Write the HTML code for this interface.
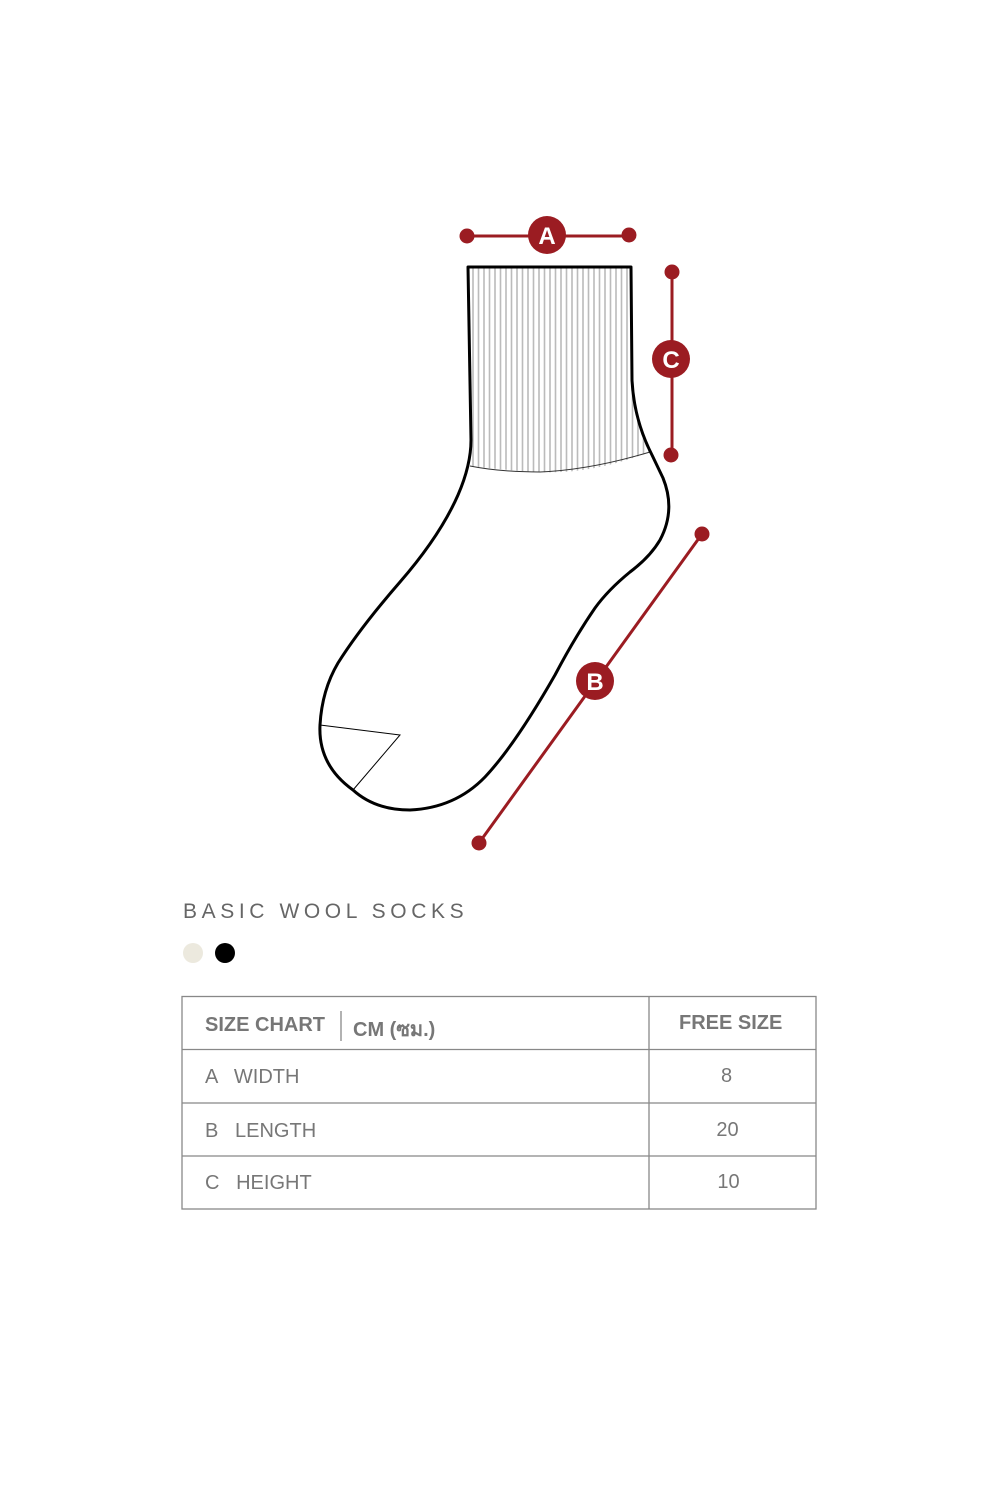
<!DOCTYPE html>
<html><head><meta charset="utf-8"><style>
html,body{margin:0;padding:0;background:#fff;width:1000px;height:1500px;overflow:hidden;position:relative;font-family:"Liberation Sans","Noto Sans CJK SC",sans-serif}
svg{position:absolute;left:0;top:0}
.t{position:absolute;color:#777;font-size:20px}
</style></head><body>
<svg width="1000" height="1500" viewBox="0 0 1000 1500">
<defs><clipPath id="cuff"><path d="M468 267 L631 267 L632 380 Q636 420 650 452 Q590 475 540 472 Q500 470 470 466 Z"/></clipPath></defs>
<g clip-path="url(#cuff)" stroke="#bbb" stroke-width="1.6">
<path d="M473 267V475M478.5 267V475M484 267V475M489.5 267V475M495 267V475M500.5 267V475M506 267V475M511.5 267V475M517 267V475M522.5 267V475M528 267V475M533.5 267V475M539 267V475M544.5 267V475M550 267V475M555.5 267V475M561 267V475M566.5 267V475M572 267V475M577.5 267V475M583 267V475M588.5 267V475M594 267V475M599.5 267V475M605 267V475M610.5 267V475M616 267V475M621.5 267V475M627 267V475M632.5 267V475M638 267V475M643.5 267V475M649 267V475"/>
</g>
<path d="M470 466 Q500 472 540 472 Q590 470 650 452" fill="none" stroke="#333" stroke-width="1"/>
<path d="M468 267 L631 267 L632 380 Q634 420 652 455 L663 478 Q676 510 660 540 Q650 557 630 572 Q608 590 595 608 Q575 637 555 675 Q515 745 485 777 Q455 808 410 810 Q375 810 353 790 Q318 765 320 725 Q322 690 338 663 Q360 628 400 582 Q440 536 458 495 Q471 465 471 440 Z" fill="none" stroke="#000" stroke-width="3" stroke-linejoin="round"/>
<path d="M320 725 L400 735 L353 790" fill="none" stroke="#000" stroke-width="1"/>
<g fill="#9b1c22" stroke="#9b1c22">
<line x1="467" y1="236" x2="629" y2="236" stroke-width="3"/>
<circle cx="467" cy="236" r="7.5" stroke="none"/><circle cx="629" cy="235" r="7.5" stroke="none"/>
<circle cx="547" cy="235" r="19" stroke="none"/>
<line x1="672" y1="272" x2="672" y2="455" stroke-width="3"/>
<circle cx="672" cy="272" r="7.5" stroke="none"/><circle cx="671" cy="455" r="7.5" stroke="none"/>
<circle cx="671" cy="359" r="19" stroke="none"/>
<line x1="702" y1="534" x2="479" y2="843" stroke-width="3"/>
<circle cx="702" cy="534" r="7.5" stroke="none"/><circle cx="479" cy="843" r="7.5" stroke="none"/>
<circle cx="595" cy="681" r="19" stroke="none"/>
</g>
<g fill="#fff" font-family="Liberation Sans, sans-serif" font-weight="bold" font-size="24" text-anchor="middle">
<text x="547" y="244">A</text><text x="671" y="368">C</text><text x="595" y="690">B</text>
</g>
<circle cx="193" cy="953" r="10" fill="#ece9de"/>
<circle cx="225" cy="953" r="10" fill="#000"/>
<g stroke="#888" stroke-width="1.3" fill="none">
<rect x="182" y="996.5" width="634" height="212.5"/>
<line x1="182" y1="1049.5" x2="816" y2="1049.5"/>
<line x1="182" y1="1103" x2="816" y2="1103"/>
<line x1="182" y1="1156" x2="816" y2="1156"/>
<line x1="649" y1="996" x2="649" y2="1209"/>
<line x1="341" y1="1011" x2="341" y2="1041"/>
</g>
</svg>
<div class="t" style="left:183px;top:900px;font-size:21px;letter-spacing:4.6px;color:#666">BASIC WOOL SOCKS</div>
<div class="t" style="left:205px;top:1014px;font-weight:bold">SIZE CHART</div>
<div class="t" style="left:353px;top:1013px;font-weight:bold">CM (ซม.)</div>
<div class="t" style="left:679px;top:1012px;font-weight:bold">FREE SIZE</div>
<div class="t" style="left:205px;top:1066px">A &nbsp; WIDTH</div>
<div class="t" style="left:205px;top:1120px">B &nbsp; LENGTH</div>
<div class="t" style="left:205px;top:1172px">C &nbsp; HEIGHT</div>
<div class="t" style="left:649px;width:155px;text-align:center;top:1065px">8</div>
<div class="t" style="left:649px;width:157px;text-align:center;top:1119px">20</div>
<div class="t" style="left:649px;width:159px;text-align:center;top:1171px">10</div>
</body></html>
